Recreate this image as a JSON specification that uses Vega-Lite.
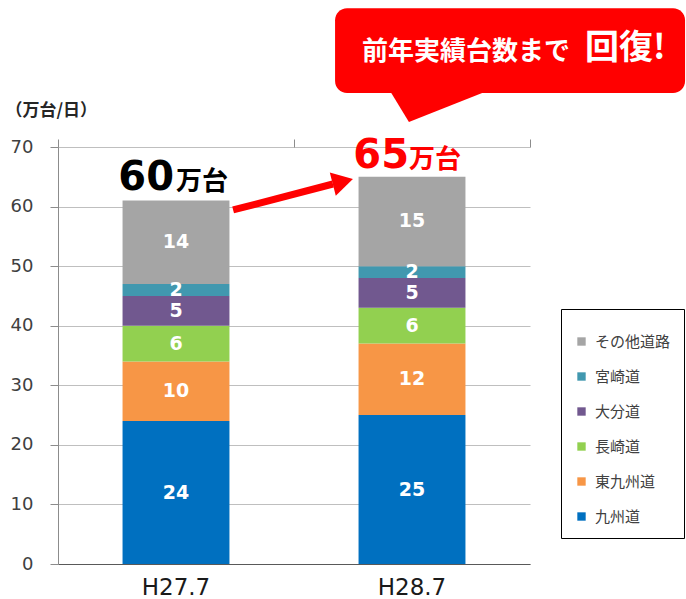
{
  "$schema": "https://vega.github.io/schema/vega-lite/v6.json",
  "width": 472,
  "height": 417,
  "autosize": {"type": "none"},
  "padding": {"left": 58, "top": 147, "right": 156, "bottom": 35},
  "background": "white",
  "config": {
    "view": {"stroke": null},
    "font": "DejaVu Sans",
    "axisY": {
      "tickCount": 7,
      "grid": true,
      "gridColor": "#bfbfbf",
      "gridWidth": 1,
      "domainColor": "#8c8c8c",
      "tickColor": "#8c8c8c",
      "tickSize": 8,
      "labelFont": "DejaVu Sans",
      "labelFontSize": 18,
      "labelColor": "#404040",
      "labelPadding": 17,
      "titleAngle": 0,
      "titleAlign": "left",
      "titleBaseline": "alphabetic",
      "titleX": -53,
      "titleY": -32,
      "titleFont": "Noto Sans CJK JP",
      "titleFontSize": 17,
      "titleFontWeight": "bold",
      "titleColor": "#262626"
    }
  },
  "layer": [
    {
      "data": {
        "values": [
          {"cat": "H27.7", "road": "九州道", "v": 24, "k": 1},
          {"cat": "H27.7", "road": "東九州道", "v": 10, "k": 2},
          {"cat": "H27.7", "road": "長崎道", "v": 6, "k": 3},
          {"cat": "H27.7", "road": "大分道", "v": 5, "k": 4},
          {"cat": "H27.7", "road": "宮崎道", "v": 2, "k": 5},
          {"cat": "H27.7", "road": "その他道路", "v": 14, "k": 6},
          {"cat": "H28.7", "road": "九州道", "v": 25, "k": 1},
          {"cat": "H28.7", "road": "東九州道", "v": 12, "k": 2},
          {"cat": "H28.7", "road": "長崎道", "v": 6, "k": 3},
          {"cat": "H28.7", "road": "大分道", "v": 5, "k": 4},
          {"cat": "H28.7", "road": "宮崎道", "v": 2, "k": 5},
          {"cat": "H28.7", "road": "その他道路", "v": 15, "k": 6}
        ]
      },
      "transform": [
        {"stack": "v", "groupby": ["cat"], "sort": [{"field": "k", "order": "ascending"}], "as": ["v0", "v1"]},
        {"calculate": "(datum.v0 + datum.v1) / 2", "as": "mid"}
      ],
      "encoding": {
        "x": {
          "field": "cat",
          "type": "nominal",
          "sort": ["H27.7", "H28.7"],
          "scale": {"paddingInner": 0.547, "paddingOuter": 0.2735},
          "axis": {
            "title": null,
            "labelAngle": 0,
            "ticks": false,
            "grid": false,
            "domainColor": "#595959",
            "labelFont": "DejaVu Sans",
            "labelFontSize": 23,
            "labelColor": "#1a1a1a",
            "labelPadding": 12
          }
        }
      },
      "layer": [
        {
          "mark": {"type": "bar"},
          "encoding": {
            "y": {"field": "v0", "type": "quantitative", "title": "（万台/日）", "scale": {"domain": [0, 70], "nice": false}},
            "y2": {"field": "v1"},
            "color": {
              "field": "road",
              "type": "nominal",
              "scale": {
                "domain": ["その他道路", "宮崎道", "大分道", "長崎道", "東九州道", "九州道"],
                "range": ["#a5a5a5", "#4198af", "#71588f", "#92d050", "#f79646", "#0070c0"]
              },
              "legend": {
                "orient": "none",
                "legendX": 503,
                "legendY": 162,
                "title": "                                                  ",
                "titleFont": "DejaVu Sans",
                "titleFontSize": 12,
                "titlePadding": 0,
                "titleLimit": 400,
                "strokeColor": "#000000",
                "fillColor": "#ffffff",
                "padding": 13,
                "symbolType": "square",
                "symbolSize": 70,
                "symbolStrokeWidth": 0,
                "labelFont": "Noto Sans CJK JP",
                "labelFontSize": 15,
                "labelColor": "#404040",
                "labelOffset": 6,
                "rowPadding": 19
              }
            }
          }
        },
        {
          "mark": {"type": "text", "color": "#ffffff", "font": "DejaVu Sans", "fontWeight": "bold", "fontSize": 19, "baseline": "middle"},
          "encoding": {
            "y": {"field": "mid", "type": "quantitative", "title": "（万台/日）"},
            "text": {"field": "v", "type": "quantitative"}
          }
        }
      ]
    },
    {
      "encoding": {
        "x": {
          "field": "px",
          "type": "quantitative",
          "scale": {"domain": [0, 2], "nice": false, "zero": false},
          "axis": {
            "title": null,
            "values": [0, 1, 2],
            "labels": false,
            "domain": false,
            "grid": false,
            "ticks": true,
            "tickSize": 8,
            "tickColor": "#8c8c8c"
          }
        },
        "y": {"field": "yv", "type": "quantitative", "title": "（万台/日）"}
      },
      "layer": [
        {
          "data": {"values": [{"px": 1.174, "px2": 2.657, "yv": 79.07, "yv2": 93.3}]},
          "mark": {"type": "rect", "color": "#ff0000", "cornerRadius": 12},
          "encoding": {"x2": {"field": "px2"}, "y2": {"field": "yv2"}}
        },
        {
          "data": {"values": [{"px": 1.398, "yv": 80}, {"px": 1.487, "yv": 74.2}, {"px": 1.856, "yv": 80}]},
          "mark": {"type": "area", "color": "#ff0000", "interpolate": "linear"},
          "encoding": {"y2": {"datum": 80}}
        },
        {
          "data": {"values": [{"px": 0.742, "yv": 59.43, "px2": 1.165, "yv2": 63.79}]},
          "mark": {"type": "rule", "color": "#ff0000", "strokeWidth": 7},
          "encoding": {"x2": {"field": "px2"}, "y2": {"field": "yv2"}}
        },
        {
          "data": {"values": [{"px": 1.207, "yv": 64.19}]},
          "mark": {"type": "point", "shape": "triangle-right", "angle": -14.5, "size": 576, "filled": true, "opacity": 1, "color": "#ff0000"},
          "encoding": {}
        },
        {
          "data": {"values": [{"px": 0.5, "yv": 62.78, "t": "60"}]},
          "mark": {"type": "text", "color": "#000000", "font": "DejaVu Sans", "fontWeight": "bold", "fontSize": 40, "align": "right", "baseline": "alphabetic", "dx": -2},
          "encoding": {"text": {"field": "t"}}
        },
        {
          "data": {"values": [{"px": 0.5, "yv": 62.78, "t": "万台"}]},
          "mark": {"type": "text", "color": "#000000", "font": "Noto Sans CJK JP", "fontWeight": "bold", "fontSize": 26, "align": "left", "baseline": "alphabetic", "dx": 0},
          "encoding": {"text": {"field": "t"}}
        },
        {
          "data": {"values": [{"px": 1.5, "yv": 66.48, "t": "65"}]},
          "mark": {"type": "text", "color": "#ff0000", "font": "DejaVu Sans", "fontWeight": "bold", "fontSize": 40, "align": "right", "baseline": "alphabetic", "dx": -3},
          "encoding": {"text": {"field": "t"}}
        },
        {
          "data": {"values": [{"px": 1.5, "yv": 66.48, "t": "万台"}]},
          "mark": {"type": "text", "color": "#ff0000", "font": "Noto Sans CJK JP", "fontWeight": "bold", "fontSize": 26, "align": "left", "baseline": "alphabetic", "dx": -3},
          "encoding": {"text": {"field": "t"}}
        },
        {
          "data": {"values": [{"px": 1.288, "yv": 84.6, "t": "前年実績台数まで"}]},
          "mark": {"type": "text", "color": "#ffffff", "font": "Noto Sans CJK JP", "fontWeight": "bold", "fontSize": 26, "align": "left", "baseline": "alphabetic"},
          "encoding": {"text": {"field": "t"}}
        },
        {
          "data": {"values": [{"px": 2.233, "yv": 84.77, "t": "回復!"}]},
          "mark": {"type": "text", "color": "#ffffff", "font": "Noto Sans CJK JP", "fontWeight": "bold", "fontSize": 34, "align": "left", "baseline": "alphabetic"},
          "encoding": {"text": {"field": "t"}}
        }
      ]
    }
  ],
  "resolve": {"scale": {"x": "independent"}, "axis": {"x": "independent"}}
}
